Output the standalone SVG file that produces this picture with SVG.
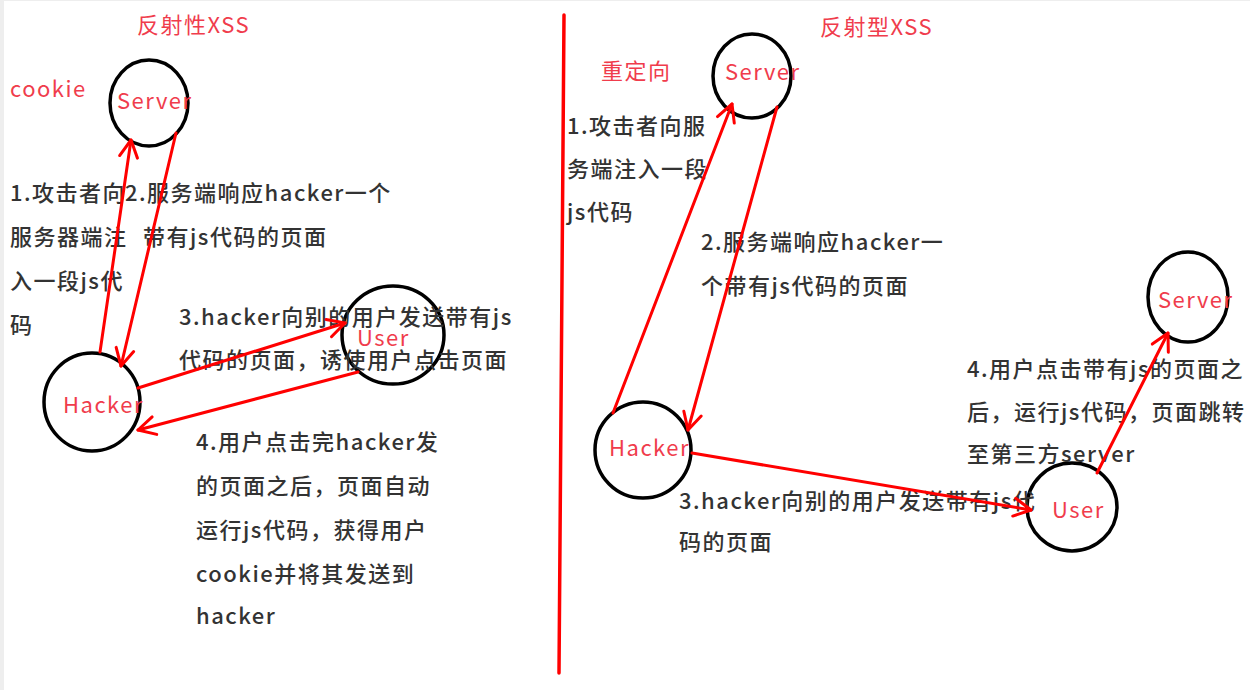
<svg xmlns="http://www.w3.org/2000/svg" width="1250" height="690" viewBox="0 0 1250 690">
<style>
.bg{fill:#ffffff}
.edge{fill:#eeeeee}
.node{fill:none;stroke:#000;stroke-width:3.5}
.lbl{font-family:"Noto Sans CJK SC","Noto Sans",sans-serif;font-size:22px;letter-spacing:1.5px;fill:#f03c4c}
.red{font-family:"Noto Sans CJK SC","Noto Sans",sans-serif;font-size:22px;letter-spacing:1.5px;fill:#f03c4c}
.txt{font-family:"Noto Sans CJK SC","Noto Sans",sans-serif;font-size:22px;letter-spacing:1.5px;font-weight:500;fill:#333}
.con{fill:none;stroke:#ff0000;stroke-width:3;stroke-linecap:round;marker-end:url(#arr)}
.div{fill:none;stroke:#ff0000;stroke-width:3.5;stroke-linecap:round}
</style>
<defs>
<marker id="arr" markerUnits="userSpaceOnUse" markerWidth="24" markerHeight="24" viewBox="0 0 24 24" refX="21" refY="12" orient="auto">
<path d="M4,3 L21,12 L4,21" fill="none" stroke="#ff0000" stroke-width="3" stroke-linecap="round" stroke-linejoin="round"/>
</marker>
</defs>
<rect class="bg" x="0" y="0" width="1250" height="690"/>
<rect class="edge" x="0" y="0" width="4" height="690"/>
<rect class="edge" x="0" y="0" width="1250" height="1"/>

<g id="titles">
<text class="red" x="137" y="33">反射性XSS</text>
<text class="red" x="10" y="97">cookie</text>
<text class="red" x="820" y="35">反射型XSS</text>
<text class="red" x="601" y="79">重定向</text>
</g>

<g id="divider">
<line class="div" x1="564" y1="15" x2="559" y2="673"/>
</g>

<g id="L-server">
<ellipse class="node" cx="149" cy="103" rx="39" ry="43"/>
<text class="lbl" x="117" y="109">Server</text>
</g>
<g id="L-hacker">
<ellipse class="node" cx="92" cy="402" rx="48" ry="49"/>
<text class="lbl" x="63" y="413">Hacker</text>
</g>
<g id="L-user">
<ellipse class="node" cx="393" cy="335" rx="51" ry="49"/>
<text class="lbl" x="357" y="346">User</text>
</g>

<g id="R-server">
<ellipse class="node" cx="752" cy="76" rx="39" ry="42"/>
<text class="lbl" x="725" y="80">Server</text>
</g>
<g id="R-hacker">
<ellipse class="node" cx="643" cy="450" rx="48" ry="48"/>
<text class="lbl" x="609" y="456">Hacker</text>
</g>
<g id="R-user">
<ellipse class="node" cx="1072" cy="507" rx="45" ry="44"/>
<text class="lbl" x="1052" y="518">User</text>
</g>
<g id="R-server2">
<ellipse class="node" cx="1188" cy="297" rx="40" ry="45"/>
<text class="lbl" x="1158" y="308">Server</text>
</g>

<g id="L-labels">
<text class="txt" x="10" y="201">1.攻击者向</text>
<text class="txt" x="10" y="245">服务器端注</text>
<text class="txt" x="10" y="289">入一段js代</text>
<text class="txt" x="10" y="333">码</text>
<text class="txt" x="125" y="201">2.服务端响应hacker一个</text>
<text class="txt" x="143" y="245">带有js代码的页面</text>
<text class="txt" x="179" y="325">3.hacker向别的用户发送带有js</text>
<text class="txt" x="179" y="368">代码的页面，诱使用户点击页面</text>
<text class="txt" x="196" y="450">4.用户点击完hacker发</text>
<text class="txt" x="196" y="494">的页面之后，页面自动</text>
<text class="txt" x="196" y="538">运行js代码，获得用户</text>
<text class="txt" x="196" y="582">cookie并将其发送到</text>
<text class="txt" x="196" y="624">hacker</text>
</g>

<g id="R-labels">
<text class="txt" x="567" y="134">1.攻击者向服</text>
<text class="txt" x="567" y="177">务端注入一段</text>
<text class="txt" x="567" y="220">js代码</text>
<text class="txt" x="701" y="250">2.服务端响应hacker一</text>
<text class="txt" x="701" y="294">个带有js代码的页面</text>
<text class="txt" x="967" y="377">4.用户点击带有js的页面之</text>
<text class="txt" x="967" y="420">后，运行js代码，页面跳转</text>
<text class="txt" x="967" y="462">至第三方server</text>
<text class="txt" x="679" y="509">3.hacker向别的用户发送带有js代</text>
<text class="txt" x="679" y="550">码的页面</text>
</g>

<g id="connectors">
<line class="con" x1="100" y1="352" x2="131" y2="140"/>
<line class="con" x1="176" y1="133" x2="121" y2="366"/>
<line class="con" x1="138" y1="388" x2="345" y2="323"/>
<line class="con" x1="358" y1="372" x2="138" y2="430"/>
<line class="con" x1="613" y1="413" x2="732" y2="104"/>
<line class="con" x1="777" y1="107" x2="688" y2="430"/>
<line class="con" x1="692" y1="453" x2="1031" y2="510"/>
<line class="con" x1="1097" y1="473" x2="1168" y2="333"/>
</g>
</svg>
